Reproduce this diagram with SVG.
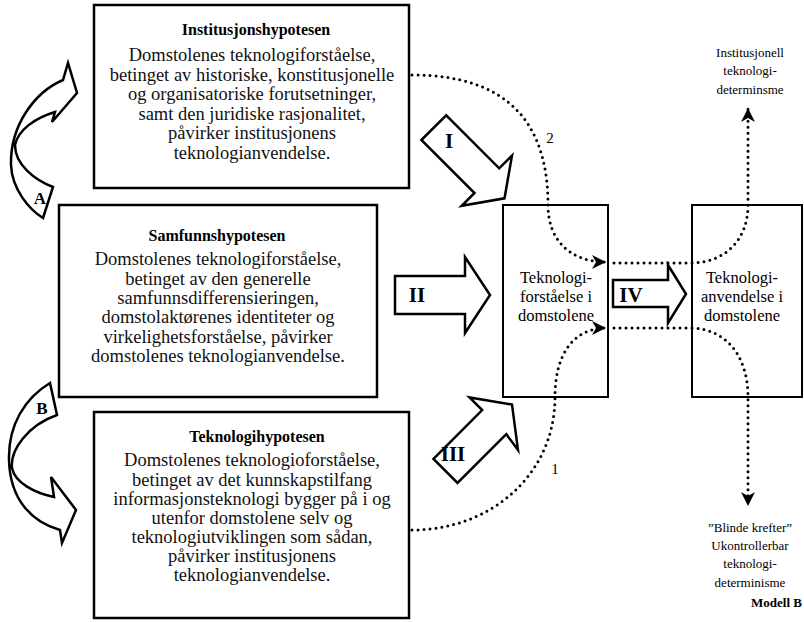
<svg xmlns="http://www.w3.org/2000/svg" width="804" height="622" viewBox="0 0 804 622">
<defs>
<style>
.box{fill:#fff;stroke:#000;stroke-width:2.5}
.sbox{fill:#fff;stroke:#000;stroke-width:2}
.t{font-family:"Liberation Serif","Times New Roman",serif;fill:#000;text-anchor:middle}
.title{font-size:16px;font-weight:bold}
.body{font-size:18.5px;fill:#111}
.mid{font-size:16.5px}
.small{font-size:13px}
.lab{font-size:21px;font-weight:bold}
.num{font-size:15px}
.blk{fill:#fff;stroke:#000;stroke-width:2.5;stroke-linejoin:miter}
.dot{fill:none;stroke:#000;stroke-width:3;stroke-linecap:round;stroke-dasharray:0 6}
</style>
<marker id="ah" markerUnits="userSpaceOnUse" viewBox="0 0 14 14" refX="14" refY="7" markerWidth="14" markerHeight="14" orient="auto">
<path d="M0,0 L14,7 L0,14 L4,7 Z" fill="#000"/>
</marker>
</defs>
<rect width="804" height="622" fill="#fff"/>

<g id="node-institusjon">
<rect class="box" x="94" y="5" width="315" height="183"/>
<text class="t title" x="256" y="35">Institusjonshypotesen</text>
<text class="t body" x="252" y="61">Domstolenes teknologiforståelse,</text>
<text class="t body" x="252" y="81">betinget av historiske, konstitusjonelle</text>
<text class="t body" x="252" y="100">og organisatoriske forutsetninger,</text>
<text class="t body" x="252" y="120">samt den juridiske rasjonalitet,</text>
<text class="t body" x="252" y="139">påvirker institusjonens</text>
<text class="t body" x="252" y="159">teknologianvendelse.</text>
</g>

<g id="node-samfunn">
<rect class="box" x="59" y="205" width="318" height="192"/>
<text class="t title" x="217" y="241">Samfunnshypotesen</text>
<text class="t body" x="218" y="265">Domstolenes teknologiforståelse,</text>
<text class="t body" x="218" y="285">betinget av den generelle</text>
<text class="t body" x="218" y="304">samfunnsdifferensieringen,</text>
<text class="t body" x="218" y="323">domstolaktørenes identiteter og</text>
<text class="t body" x="218" y="343">virkelighetsforståelse, påvirker</text>
<text class="t body" x="218" y="362">domstolenes teknologianvendelse.</text>
</g>

<g id="node-teknologi">
<rect class="box" x="94" y="412" width="315" height="206"/>
<text class="t title" x="257" y="442">Teknologihypotesen</text>
<text class="t body" x="252" y="466">Domstolenes teknologioforståelse,</text>
<text class="t body" x="252" y="486">betinget av det kunnskapstilfang</text>
<text class="t body" x="252" y="505">informasjonsteknologi bygger på i og</text>
<text class="t body" x="252" y="524">utenfor domstolene selv og</text>
<text class="t body" x="252" y="543">teknologiutviklingen som sådan,</text>
<text class="t body" x="252" y="562">påvirker institusjonens</text>
<text class="t body" x="252" y="581">teknologianvendelse.</text>
</g>

<g id="node-forstaelse">
<rect class="sbox" x="503" y="205" width="105" height="192"/>
<text class="t mid" x="556" y="283">Teknologi-</text>
<text class="t mid" x="556" y="302">forståelse i</text>
<text class="t mid" x="556" y="321">domstolene</text>
</g>

<g id="node-anvendelse">
<rect class="sbox" x="692" y="205" width="110" height="192"/>
<text class="t mid" x="742" y="283">Teknologi-</text>
<text class="t mid" x="742" y="302">anvendelse i</text>
<text class="t mid" x="742" y="321">domstolene</text>
</g>

<g id="label-institusjonell">
<text class="t small" x="750" y="57">Institusjonell</text>
<text class="t small" x="750" y="75">teknologi-</text>
<text class="t small" x="750" y="94">determinsme</text>
</g>

<g id="label-blinde">
<text class="t small" x="750" y="532">”Blinde krefter”</text>
<text class="t small" x="750" y="550">Ukontrollerbar</text>
<text class="t small" x="750" y="568">teknologi-</text>
<text class="t small" x="750" y="587">determinisme</text>
</g>

<text class="t" x="802" y="607" style="font-size:13px;font-weight:bold;text-anchor:end">Modell B</text>

<g id="connectors">
<path class="blk" d="M63,80 C35,92 10,125 11,165 C12,190 30,210 43,218 L53,187 C35,180 15,165 15,145 C18,130 35,118 55,112 L52,122 L77,93 L68,63 Z"/>
<text class="t" x="40" y="204" style="font-size:17px;font-weight:bold">A</text>
<path class="blk" d="M50,383 C25,398 8,425 9,460 C10,500 32,522 60,530 L62,543 L76,510 L51,477 L54,497 C35,493 15,483 12,468 C10,450 28,425 57,415 Z"/>
<text class="t" x="42" y="414" style="font-size:17px;font-weight:bold">B</text>

<polygon class="blk" points="421.4,140 446.2,115.3 499.2,168.3 512,155.6 504.5,198.3 461.7,205.8 474.5,193"/>
<text class="t lab" x="449" y="148">I</text>
<polygon class="blk" points="395,276 465,276 465,257 490,295 465,333 465,314 395,314"/>
<text class="t lab" x="417" y="302">II</text>
<polygon class="blk" points="433.5,458.9 482.2,410.1 469.5,397.4 512,404.5 518,450 506.3,434.2 457.5,483"/>
<text class="t lab" x="453" y="461">III</text>
<polygon class="blk" points="613,280 668,280 668,265 686,294 668,323 668,307 613,307"/>
<text class="t lab" x="631" y="302">IV</text>

<path class="dot" d="M412,75 C505,75 548,120 548,205 C548,240 570,262 606,262" marker-end="url(#ah)"/>
<path class="dot" d="M614,263 L690,263 C725,263 748,240 748,205 L748,108" marker-end="url(#ah)"/>
<path class="dot" d="M412,530 C490,530 555,475 555,397 C555,352 575,328 606,328" marker-end="url(#ah)"/>
<path class="dot" d="M614,328 L690,328 C725,328 748,355 748,397 L748,506" marker-end="url(#ah)"/>
<text class="t num" x="550" y="143">2</text>
<text class="t num" x="555" y="474">1</text>
</g>
</svg>
